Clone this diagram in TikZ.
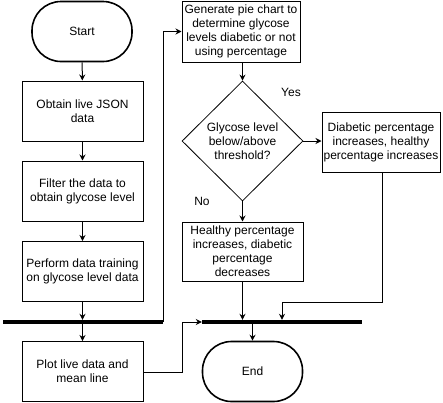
\documentclass[tikz,border=0pt]{standalone}
\usepackage{fontspec}
\setmainfont{Liberation Sans}
\usetikzlibrary{shapes.geometric,arrows.meta}
\begin{document}
\begin{tikzpicture}[x=1pt,y=1pt,
  font=\fontsize{12}{14}\selectfont,
  box/.style={draw,line width=1pt,minimum width=121pt,minimum height=60pt,inner sep=1pt,align=center},
  term/.style={draw,line width=1.6pt,rounded corners=29pt,minimum width=100pt,minimum height=60pt,inner sep=0pt},
  bar/.style={fill=black,minimum height=4pt,inner sep=0pt,minimum width=160pt},
  dec/.style={draw,diamond,line width=0.8pt,minimum width=121pt,minimum height=120pt,inner sep=0pt,align=center},
  arr/.style={-{Stealth[length=6pt,width=6pt]},line width=1pt},
  lbl/.style={inner sep=0pt}]
\useasboundingbox (0,0) rectangle (443,-402);
\node[term] (start) at (82,-31.5) {Start};
\node[box] (b1) at (82.5,-111) {Obtain live JSON\\data};
\node[box] (b2) at (82.5,-191) {Filter the data to\\obtain glycose level};
\node[box] (b3) at (82.5,-271.5) {Perform data training\\on glycose level data};
\node[bar] (bar1) at (83,-322) {};
\node[box] (b4) at (82.5,-371.5) {Plot live data and\\mean line};
\node[box,minimum width=118pt,minimum height=61pt] (b5) at (241,-31.5) {Generate pie chart to\\determine glycose\\levels diabetic or not\\using percentage};
\node[dec] (dia) at (242.5,-141) {Glycose level\\below/above\\threshold?};
\node[box,minimum width=118pt,minimum height=60pt] (b6) at (381,-142) {Diabetic percentage\\increases, healthy\\percentage increases};
\node[box,minimum width=121pt,minimum height=59pt] (b7) at (242.5,-251.5) {Healthy percentage\\increases, diabetic\\percentage\\decreases};
\node[bar] (bar2) at (282,-322) {};
\node[term] (end) at (252.5,-371.5) {End};
\node[lbl] (yes) at (291,-92) {Yes};
\node[lbl] (no) at (202,-201) {No};
\draw[arr] (start) -- (b1);
\draw[arr] (b1) -- (b2);
\draw[arr] (b2) -- (b3);
\draw[arr] (b3.south) -- (b3.south |- bar1.north);
\draw[arr] (b4.north |- bar1.south) -- (b4.north);
\draw[arr] (bar1.east) |- (b5.west);
\draw[arr] (b5.south -| dia.north) -- (dia.north);
\draw[arr] (dia.east) -- (b6.west |- dia.east);
\draw[arr] (dia.south) -- (b7.north);
\draw[arr] (b7.south) -- (b7.south |- bar2.north);
\coordinate (c1) at (382,-302);
\coordinate (c2) at (282,-302);
\draw[arr] (b6.south -| c1) -- (c1) -- (c2) -- (c2 |- bar2.north);
\coordinate (c3) at (182,-372);
\draw[arr] (b4.east |- c3) -- (c3) |- (bar2.west);
\draw[arr] (end.north |- bar2.south) -- (end.north);
\end{tikzpicture}
\end{document}
